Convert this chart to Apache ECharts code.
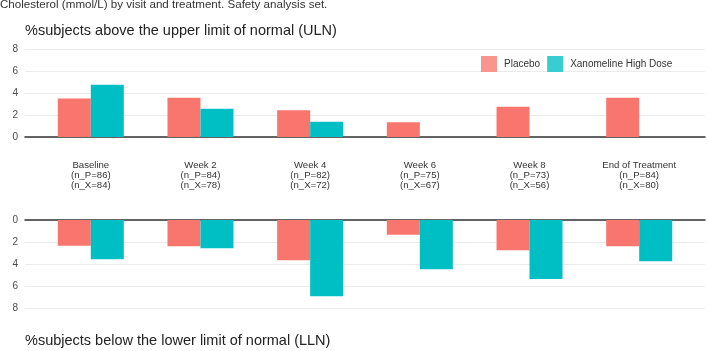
<!doctype html>
<html lang="en">
<head>
<meta charset="UTF-8">
<script src="https://cdn.jsdelivr.net/npm/echarts@6/dist/echarts.min.js"></script>
<title>Cholesterol by visit</title>
<style>html,body{margin:0;padding:0;background:#fff;}</style>
</head>
<body>
<div id="chart" style="width:708px;height:351px;"></div>
<script>
// visits and subject counts
var visits = ['Baseline', 'Week 2', 'Week 4', 'Week 6', 'Week 8', 'End of Treatment'];
var nPlacebo = [86, 84, 82, 75, 73, 84];
var nXano = [84, 78, 72, 67, 56, 80];
// % above ULN
var abovePlacebo = [3.49, 3.57, 2.44, 1.33, 2.74, 3.57];
var aboveXano = [4.76, 2.56, 1.39, 0, 0, 0];
// % below LLN
var belowPlacebo = [2.33, 2.38, 3.66, 1.33, 2.74, 2.38];
var belowXano = [3.57, 2.56, 6.94, 4.48, 5.36, 3.75];
var yTicks = [0, 2, 4, 6, 8];

var font = 'Liberation Sans';
var cPlacebo = '#F8766D';
var cXano = '#00BFC4';

function pairs(arr) {
    return arr.map(function (v, i) { return [i + 1, v]; });
}

var chart = echarts.init(document.getElementById('chart'));

function xAx(gridIndex, withLabels) {
    return {
        type: 'value', gridIndex: gridIndex, min: 0.4, max: 6.6,
        splitLine: {show: false},
        axisTick: {show: false},
        axisLine: {show: true, onZero: true, lineStyle: {color: '#333', width: 1.5}},
        axisLabel: withLabels ? {
            show: true,
            customValues: [1, 2, 3, 4, 5, 6],
            margin: 23, fontSize: 9.6, lineHeight: 10, color: '#333', fontFamily: font,
            formatter: function (v) {
                var i = Math.round(v) - 1;
                return visits[i] + '\n(n_P=' + nPlacebo[i] + ')\n(n_X=' + nXano[i] + ')';
            }
        } : {show: false}
    };
}

function yAx(gridIndex, inverse) {
    return {
        type: 'value', gridIndex: gridIndex, min: 0, max: 8, interval: 2, inverse: inverse,
        axisLine: {show: false}, axisTick: {show: false},
        axisLabel: {
            fontSize: 10, color: '#4d4d4d', fontFamily: font, margin: 7,
            customValues: yTicks
        },
        splitLine: {lineStyle: {color: '#ebebeb', width: 1}}
    };
}

var option = {
    backgroundColor: '#fff',
    animation: false,
    textStyle: {fontFamily: font},
    title: [
        {text: 'Cholesterol (mmol/L) by visit and treatment. Safety analysis set.', left: 0, top: -1, padding: 0,
            textStyle: {fontSize: 11.6, fontWeight: 'normal', color: '#333', fontFamily: font}},
        {text: '%subjects above the upper limit of normal (ULN)', left: 25, top: 23, padding: 0,
            textStyle: {fontSize: 14.5, fontWeight: 'normal', color: '#222', fontFamily: font}},
        {text: '%subjects below the lower limit of normal (LLN)', left: 25, top: 333, padding: 0,
            textStyle: {fontSize: 14.5, fontWeight: 'normal', color: '#222', fontFamily: font}}
    ],
    legend: {
        data: [
            {name: 'Placebo', itemStyle: {color: '#FA958E'}},
            {name: 'Xanomeline High Dose', itemStyle: {color: '#38CDD1'}}
        ],
        left: 481, top: 56, padding: 0, icon: 'rect', itemWidth: 16, itemHeight: 16, itemGap: 7,
        textStyle: {fontSize: 10, color: '#333', fontFamily: font, padding: [0, 0, 0, 2]}
    },
    grid: [
        {left: 25, right: 3, top: 49, height: 88},
        {left: 25, right: 3, top: 220, height: 88}
    ],
    xAxis: [xAx(0, true), xAx(1, false)],
    yAxis: [yAx(0, false), yAx(1, true)],
    series: [
        {name: 'Placebo', type: 'bar', xAxisIndex: 0, yAxisIndex: 0, data: pairs(abovePlacebo),
            barWidth: 33, barGap: '0%', itemStyle: {color: cPlacebo}},
        {name: 'Xanomeline High Dose', type: 'bar', xAxisIndex: 0, yAxisIndex: 0, data: pairs(aboveXano),
            barWidth: 33, barGap: '0%', itemStyle: {color: cXano}},
        {name: 'Placebo', type: 'bar', xAxisIndex: 1, yAxisIndex: 1, data: pairs(belowPlacebo),
            barWidth: 33, barGap: '0%', itemStyle: {color: cPlacebo}},
        {name: 'Xanomeline High Dose', type: 'bar', xAxisIndex: 1, yAxisIndex: 1, data: pairs(belowXano),
            barWidth: 33, barGap: '0%', itemStyle: {color: cXano}}
    ]
};

chart.setOption(option);
</script>
</body>
</html>
